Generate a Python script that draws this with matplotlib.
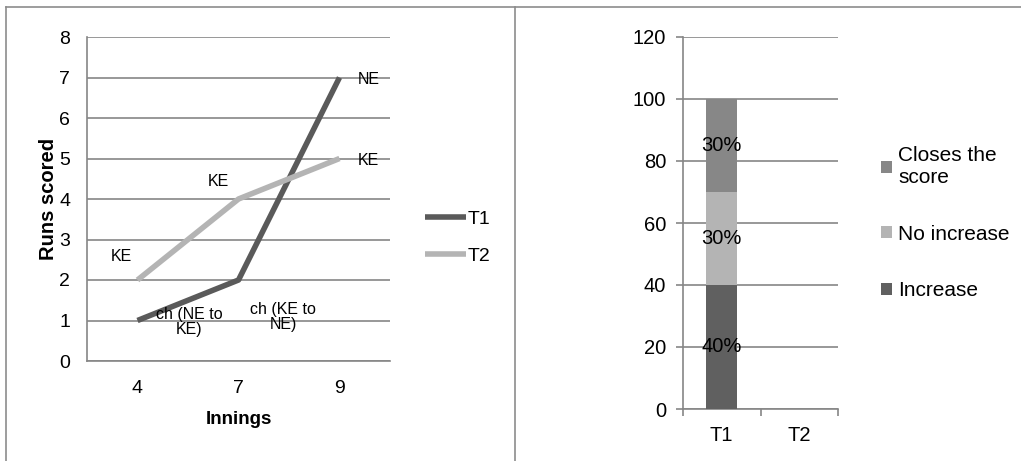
import matplotlib.pyplot as plt
from matplotlib.lines import Line2D

plt.rcParams['font.family'] = ['Liberation Sans', 'DejaVu Sans']

# ------------------------------
# DATA
# ------------------------------
innings = ["4", "7", "9"]
t1_runs = [1, 2, 7]
t2_runs = [2, 4, 5]

# point labels: text, x (category pos), y
note_text = ["NE", "KE", "KE", "KE", "ch (NE to\nKE)", "ch (KE to\nNE)"]
note_x = [2.29, 2.29, 0.80, -0.16, 0.51, 1.44]
note_y = [6.96, 4.96, 4.44, 2.59, 0.96, 1.09]

teams = ["T1", "T2"]
increase = [40, 0]
no_increase = [30, 0]
closes_score = [30, 0]

W, H = 1021, 461
fig = plt.figure(figsize=(W / 100, H / 100), dpi=100)
grid_col = "#868686"
fs = 14


def px_axes(x0, y0, x1, y1):
    return fig.add_axes([x0 / W, 1 - y1 / H, (x1 - x0) / W, (y1 - y0) / H])


# ------------------------------
# LEFT: LINE CHART
# ------------------------------
ax = px_axes(87, 37, 390, 361)
xs = range(len(innings))
ax.plot(xs, t1_runs, color="#5a5a5a", lw=4, solid_capstyle="butt", label="T1", zorder=3)
ax.plot(xs, t2_runs, color="#b4b4b4", lw=4, solid_capstyle="butt", label="T2", zorder=3)
ax.set_xlim(-0.5, 2.5)
ax.set_ylim(0, 8)
ax.set_xticks(list(xs))
ax.set_xticklabels(innings)
ax.set_yticks(range(0, 9))
ax.yaxis.grid(True, color=grid_col, lw=1.2)
ax.set_axisbelow(True)
for s in ["top", "right"]:
    ax.spines[s].set_visible(False)
for s in ["left", "bottom"]:
    ax.spines[s].set_color(grid_col)
    ax.spines[s].set_linewidth(1.2)
ax.tick_params(length=0, labelsize=fs, pad=12)
ax.tick_params(axis="x", pad=14)
ax.set_xlabel("Innings", fontsize=13.5, fontweight="bold", labelpad=10)
ax.set_ylabel("Runs scored", fontsize=14.5, fontweight="bold", labelpad=1)

for t, x, y in zip(note_text, note_x, note_y):
    ax.text(x, y, t, ha="center", va="center", fontsize=11.5, linespacing=0.95, zorder=4)

ax.legend(loc="center left", bbox_to_anchor=(1.115, 0.38), frameon=False,
          borderpad=0, borderaxespad=0, fontsize=fs, handlelength=2.1,
          handletextpad=0.1, labelspacing=1.0)

# ------------------------------
# RIGHT: STACKED BAR
# ------------------------------
bx = px_axes(683, 37, 838, 409)
bpos = range(len(teams))
b1 = bx.bar(bpos, increase, width=0.4, color="#606060", label="Increase", zorder=3)
b2 = bx.bar(bpos, no_increase, bottom=increase, width=0.4, color="#b4b4b4",
            label="No increase", zorder=3)
base2 = [a + b for a, b in zip(increase, no_increase)]
b3 = bx.bar(bpos, closes_score, bottom=base2, width=0.4, color="#878787",
            label="Closes the\nscore", zorder=3)

for bars, vals in [(b1, increase), (b2, no_increase), (b3, closes_score)]:
    for r, v in zip(bars, vals):
        if v:
            bx.text(r.get_x() + r.get_width() / 2, r.get_y() + v / 2, f"{v}%",
                    ha="center", va="center", fontsize=14.5, zorder=4)

bx.set_xlim(-0.5, 1.5)
bx.set_ylim(0, 120)
bx.set_yticks(range(0, 121, 20))
bx.set_xticks(list(bpos))
bx.set_xticklabels(teams)
bx.set_xticks([-0.5, 0.5, 1.5], minor=True)
bx.yaxis.grid(True, color=grid_col, lw=1.2)
bx.set_axisbelow(True)
for s in ["top", "right"]:
    bx.spines[s].set_visible(False)
for s in ["left", "bottom"]:
    bx.spines[s].set_color(grid_col)
    bx.spines[s].set_linewidth(1.2)
bx.tick_params(axis="y", length=5, color=grid_col, width=1.2, labelsize=14.5, pad=7)
bx.tick_params(axis="x", which="major", length=0, labelsize=14.5, pad=12)
bx.tick_params(axis="x", which="minor", length=5, color=grid_col, width=1.2)

h, l = bx.get_legend_handles_labels()
bx.legend(h[::-1], l[::-1], loc="center left", bbox_to_anchor=(1.28, 0.5),
          frameon=False, borderpad=0, borderaxespad=0, fontsize=15,
          handlelength=0.5, handleheight=0.5, handletextpad=0.3,
          labelspacing=1.8)

# ------------------------------
# PANEL BORDERS
# ------------------------------
border = "#8c8c8c"
fig.add_artist(Line2D([6 / W, 1], [1 - 7 / H] * 2, color=border, lw=1.2))
fig.add_artist(Line2D([6 / W] * 2, [0, 1 - 7 / H], color=border, lw=1.2))
fig.add_artist(Line2D([515 / W] * 2, [0, 1 - 7 / H], color=border, lw=1.2))

fig.savefig("out.png", dpi=100)
